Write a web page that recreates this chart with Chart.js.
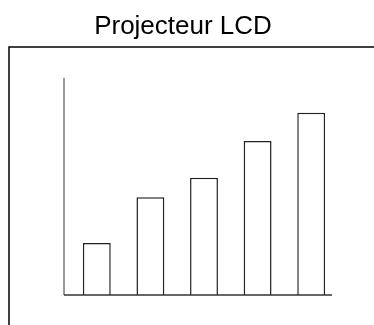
<!DOCTYPE html>
<html>
<head>
<meta charset="utf-8">
<script src="https://cdn.jsdelivr.net/npm/chart.js@4/dist/chart.umd.min.js"></script>
<style>
  html, body { margin: 0; padding: 0; background: #fff; }
  #wrap { width: 374px; height: 325px; }
</style>
</head>
<body>
<div id="wrap"><canvas id="chart"></canvas></div>
<script>
var categories = ["1", "2", "3", "4", "5"];
var values = [2.4, 4.5, 5.4, 7.1, 8.4];
var yMax = 10;
var title = "Projecteur LCD";

// title, frame and axis lines, drawn by hand
var axesPlugin = {
    id: "axesLines",
    beforeDraw: function(chart) {
        var ctx = chart.ctx;
        ctx.save();
        ctx.strokeStyle = "#000";
        ctx.lineWidth = 1.5;
        ctx.beginPath();
        ctx.moveTo(9, 325);
        ctx.lineTo(9, 47);
        ctx.lineTo(374, 47);
        ctx.stroke();
        ctx.fillStyle = "#000";
        ctx.font = "26px 'Liberation Sans', Arial, sans-serif";
        ctx.textAlign = "center";
        ctx.textBaseline = "alphabetic";
        ctx.fillText(title, 183, 34);
        ctx.restore();
    },
    afterDatasetsDraw: function(chart) {
        var ctx = chart.ctx;
        var a = chart.chartArea;
        var x0 = a.left - 6;
        ctx.save();
        ctx.lineWidth = 1.5;
        ctx.strokeStyle = "#777";
        ctx.beginPath();
        ctx.moveTo(x0, a.top);
        ctx.lineTo(x0, a.bottom);
        ctx.stroke();
        ctx.strokeStyle = "#333";
        ctx.beginPath();
        ctx.moveTo(x0, a.bottom);
        ctx.lineTo(a.right - 6, a.bottom);
        ctx.stroke();
        ctx.restore();
    }
};

var elem = document.getElementById("chart").getContext("2d");

const newChart = new Chart(elem, {
    type: "bar",
    data: {
        labels: categories,
        datasets: [{
            data: values,
            backgroundColor: "#fff",
            borderColor: "#222",
            borderWidth: 1.5,
            barPercentage: 0.52,
            categoryPercentage: 1
        }]
    },
    options: {
        responsive: true,
        maintainAspectRatio: false,
        animation: false,
        layout: {
            padding: { left: 70, right: 36, top: 78, bottom: 30 }
        },
        scales: {
            x: { display: false },
            y: { display: false, min: 0, max: yMax }
        },
        plugins: {
            legend: { display: false },
            tooltip: { enabled: false },
            title: { display: false }
        }
    },
    plugins: [axesPlugin]
});
</script>
</body>
</html>
